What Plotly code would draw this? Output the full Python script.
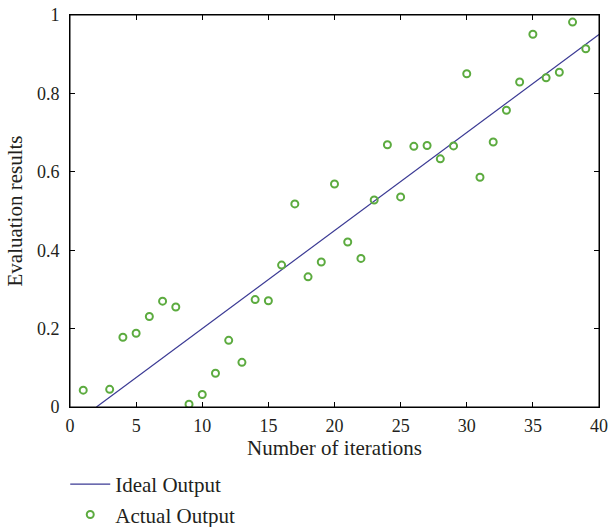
import plotly.graph_objects as go

iterations = [1, 3, 4, 5, 6, 7, 8, 9, 10, 11, 12, 13, 14, 15, 16, 17, 18, 19, 20,
              21, 22, 23, 24, 25, 26, 27, 28, 29, 30, 31, 32, 33, 34, 35, 36, 37, 38, 39]
actual_output = [0.043, 0.045, 0.178, 0.188, 0.231, 0.270, 0.255, 0.007, 0.032, 0.086,
                 0.170, 0.114, 0.274, 0.271, 0.362, 0.518, 0.332, 0.370, 0.569, 0.421,
                 0.379, 0.528, 0.669, 0.536, 0.665, 0.667, 0.633, 0.666, 0.850, 0.586,
                 0.676, 0.757, 0.829, 0.951, 0.840, 0.854, 0.982, 0.914]
ideal_x = [2, 40]
ideal_y = [0.0, 0.95]

FONT = "Liberation Serif"
TEXT = "#231f20"

fig = go.Figure()
fig.add_trace(go.Scatter(
    x=ideal_x, y=ideal_y, mode="lines", name="Ideal Output",
    line=dict(color="#3b3a94", width=1.2),
))
fig.add_trace(go.Scatter(
    x=iterations, y=actual_output, mode="markers", name="Actual Output",
    marker=dict(symbol="circle-open", size=7, color="#5cab3f", line=dict(width=2, color="#5cab3f")),
))

axis_common = dict(
    showline=True, linecolor="black", linewidth=1, mirror="ticks",
    ticks="inside", ticklen=5, tickcolor="black", showgrid=False, zeroline=False,
    automargin=False,
    tickfont=dict(family=FONT, size=18, color=TEXT),
)

fig.update_layout(
    width=609, height=527,
    margin=dict(l=70, r=10, t=15, b=120, autoexpand=False),
    paper_bgcolor="white", plot_bgcolor="white",
    font=dict(family=FONT, size=21, color=TEXT),
    xaxis=dict(range=[0, 40], dtick=5, ticklabelstandoff=2,
               title=dict(text="Number of iterations", standoff=4,
                          font=dict(family=FONT, size=21, color=TEXT)), **axis_common),
    yaxis=dict(range=[0, 1], dtick=0.2, tickformat="~g", ticklabelstandoff=6,
               title=dict(text="Evaluation results", standoff=8,
                          font=dict(family=FONT, size=21, color=TEXT)), **axis_common),
    legend=dict(x=-0.009, y=-0.1455, xanchor="left", yanchor="top", bgcolor="rgba(0,0,0,0)",
                font=dict(family=FONT, size=21, color=TEXT), tracegroupgap=0, itemwidth=40),
    showlegend=True,
    shapes=[dict(type="rect", xref="paper", yref="paper", x0=0, x1=1, y0=0, y1=1,
                 line=dict(color="black", width=1), layer="above")],
)

fig.write_html("out.html", config={"displayModeBar": False},
               post_script="document.body.style.margin='0';document.body.style.overflow='hidden';")
